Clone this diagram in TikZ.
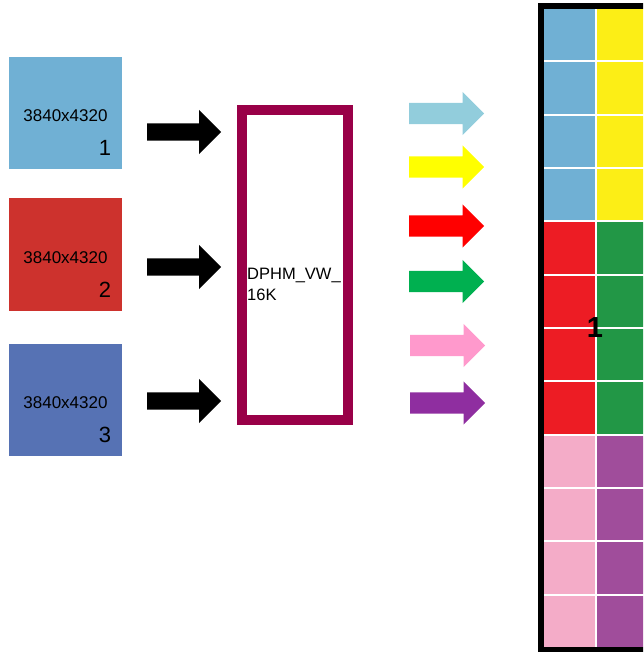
\documentclass[tikz,border=0pt]{standalone}
\usepackage{fontspec}
\setmainfont{Liberation Sans}
\usetikzlibrary{shapes.arrows}

\definecolor{tileblue}{RGB}{112,176,212}
\definecolor{tilered}{RGB}{205,50,45}
\definecolor{tilenavy}{RGB}{86,114,180}
\definecolor{boxmaroon}{RGB}{153,0,72}
\definecolor{arrcyan}{RGB}{146,205,220}
\definecolor{arryellow}{RGB}{255,255,0}
\definecolor{arrred}{RGB}{255,0,0}
\definecolor{arrgreen}{RGB}{0,176,80}
\definecolor{arrpink}{RGB}{255,153,204}
\definecolor{arrpurple}{RGB}{143,46,160}
\definecolor{gridblue}{RGB}{112,176,212}
\definecolor{gridyellow}{RGB}{252,238,22}
\definecolor{gridred}{RGB}{237,28,36}
\definecolor{gridgreen}{RGB}{34,151,70}
\definecolor{gridpink}{RGB}{244,172,200}
\definecolor{gridpurple}{RGB}{160,77,155}

\tikzset{
  srctile/.style={minimum width=113pt, minimum height=112pt, inner sep=0pt},
  restext/.style={font=\fontsize{17}{20}\selectfont, inner sep=0pt},
  tilenum/.style={font=\fontsize{22}{26}\selectfont, inner sep=0pt, anchor=south east},
  blkarrow/.style={single arrow, fill=black, anchor=west, minimum height=74pt,
    inner xsep=0pt, inner ysep=8.5pt, single arrow head extend=13.5pt},
  colarrow/.style={single arrow, fill=#1, anchor=west, minimum height=75pt,
    inner xsep=0pt, inner ysep=10.5pt, single arrow head extend=11pt},
}

\begin{document}
\begin{tikzpicture}[x=1pt, y=-1pt]
	\useasboundingbox (0,0) rectangle (643,652);
	\clip (0,0) rectangle (643,652);

	% source tiles
	\node[srctile, fill=tileblue] (src1) at (65.5,113) {};
	\node[srctile, fill=tilered] (src2) at (65.5,254.5) {};
	\node[srctile, fill=tilenavy] (src3) at (65.5,400) {};
	\node[restext] (res1) at ([yshift=-3pt]src1.center) {3840x4320};
	\node[restext] (res2) at ([yshift=-3pt]src2.center) {3840x4320};
	\node[restext] (res3) at ([yshift=-3pt]src3.center) {3840x4320};
	\node[tilenum] (num1) at ([shift={(-11pt,13pt)}]src1.south east) {1};
	\node[tilenum] (num2) at ([shift={(-11pt,13pt)}]src2.south east) {2};
	\node[tilenum] (num3) at ([shift={(-11pt,13pt)}]src3.south east) {3};

	% inputs
	\node[blkarrow] (in1) at (147,132) {};
	\node[blkarrow] (in2) at (147,267) {};
	\node[blkarrow] (in3) at (147,401) {};

	% DPHM block
	\draw[boxmaroon, line width=10pt] (242,110) rectangle (348,420);
	\node[restext, anchor=west, align=left, font=\fontsize{16.5}{21}\selectfont]
		(dphm) at (247,284) {DPHM\_VW\_\\16K};

	% outputs
	\node[colarrow=arrcyan] (out1) at (409,113.5) {};
	\node[colarrow=arryellow] (out2) at (409,167) {};
	\node[colarrow=arrred] (out3) at (409,226) {};
	\node[colarrow=arrgreen] (out4) at (409,281.5) {};
	\node[colarrow=arrpink] (out5) at (410,345.5) {};
	\node[colarrow=arrpurple] (out6) at (410,403) {};

	% 16K wall
	\foreach \g/\ca/\cb in {0/gridblue/gridyellow, 1/gridred/gridgreen, 2/gridpink/gridpurple}
		\foreach \k in {0,...,3} {
			\fill[\ca] (543,{8+(4*\g+\k)*53.333+1}) rectangle (595,{8+(4*\g+\k+1)*53.333-1});
			\fill[\cb] (597,{8+(4*\g+\k)*53.333+1}) rectangle (649,{8+(4*\g+\k+1)*53.333-1});
		}
	\draw[line width=6pt] (541,6) rectangle (652,650);
	\node[font=\fontsize{29}{30}\selectfont\bfseries, inner sep=0pt] (wallnum) at (595,327.5) {1};

\end{tikzpicture}
\end{document}
